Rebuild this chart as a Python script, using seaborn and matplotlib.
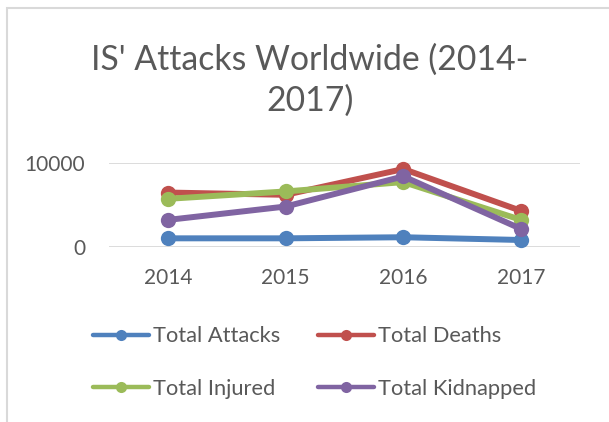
import matplotlib
matplotlib.use("Agg")
import matplotlib.pyplot as plt
import seaborn as sns
import pandas as pd
from matplotlib.textpath import TextPath
from matplotlib.font_manager import FontProperties
from matplotlib.patches import Rectangle
from matplotlib.lines import Line2D

years = ["2014", "2015", "2016", "2017"]
total_attacks = [1000, 1000, 1130, 800]
total_deaths = [6470, 6200, 9280, 4280]
total_injured = [5720, 6600, 7720, 3200]
total_kidnapped = [3200, 4800, 8400, 2120]
series_names = ["Total Attacks", "Total Deaths", "Total Injured", "Total Kidnapped"]
colors = ["#4F81BD", "#C0504D", "#9BBB59", "#8064A2"]
title = "IS' Attacks Worldwide (2014-\n2017)"
y_ticks = [0, 10000]

sns.set_theme(style="white")
FAMILY = "Lato"
plt.rcParams["font.family"] = [FAMILY, "DejaVu Sans"]
GRAY = "#595959"
DPI = 100


def fit_size(text, target_px):
    w = TextPath((0, 0), text, size=100, prop=FontProperties(family=FAMILY)).get_extents().width
    return target_px * 72.0 / DPI * 100.0 / w


title_fs = fit_size("IS' Attacks Worldwide (2014-", 431)
tick_fs = fit_size("2014", 47)
leg_fs = fit_size("Total Attacks", 126)
px2pt = 72.0 / DPI

rows = []
for name, vals in zip(series_names, [total_attacks, total_deaths, total_injured, total_kidnapped]):
    for yr, v in zip(years, vals):
        rows.append({"Year": yr, "Value": v, "Series": name})
df = pd.DataFrame(rows)

fig = plt.figure(figsize=(6.09, 4.22), dpi=DPI)
W, H = 609, 422
ax = fig.add_axes([109 / W, 1 - 246.7 / H, (580 - 109) / W, (246.7 - 163) / H])

sns.lineplot(data=df, x="Year", y="Value", hue="Series", palette=colors,
             marker="o", markersize=11, markeredgewidth=0, linewidth=4.3,
             sort=False, ax=ax, legend=False, clip_on=False)

ax.set_xlim(-0.5, 3.5)
ax.set_ylim(0, 10000)
ax.set_yticks(y_ticks)
ax.set_yticklabels([str(t) for t in y_ticks])
ax.grid(False)
for t in y_ticks:
    ax.axhline(t, color="#d9d9d9", lw=1.3, zorder=0)
for s in ax.spines.values():
    s.set_visible(False)
ax.tick_params(axis="both", length=0, labelsize=tick_fs, labelcolor=GRAY)
ax.tick_params(axis="y", pad=17)
ax.tick_params(axis="x", pad=15)
ax.set_xlabel("")
ax.set_ylabel("")

fig.text(310 / W, 1 - 80 / H, title, ha="center", va="center", multialignment="center",
         fontsize=title_fs, color=GRAY, linespacing=1.32)

handles = {n: Line2D([], [], color=c, lw=3.2, marker="o", markersize=8, markeredgewidth=0)
           for n, c in zip(series_names, colors)}
# legend fills column-wise; order so rows read Attacks/Deaths, Injured/Kidnapped
order = [series_names[0], series_names[2], series_names[1], series_names[3]]
fig.legend([handles[n] for n in order], order, loc="center",
           bbox_to_anchor=(314.5 / W, 1 - 362.5 / H),
           ncol=2, frameon=False, fontsize=leg_fs, labelcolor=GRAY,
           handlelength=56 * px2pt / leg_fs, handletextpad=4 * px2pt / leg_fs,
           columnspacing=37 * px2pt / leg_fs,
           labelspacing=1.49, borderpad=0, borderaxespad=0)

fig.patches.append(Rectangle((6.5 / W, -0.1), 2.0, 1.1 - 8.3 / H, transform=fig.transFigure,
                             fill=False, ec="#d9d9d9", lw=1.5))

fig.savefig("out.png", dpi=DPI)
